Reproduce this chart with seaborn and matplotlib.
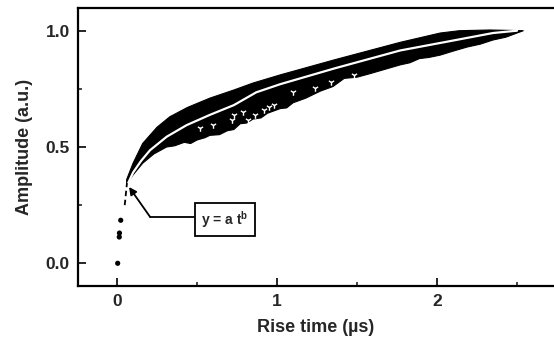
import matplotlib
matplotlib.use('Agg')
import matplotlib.pyplot as plt
import seaborn as sb
import numpy as np
import pandas as pd

# rise time (us) / normalised amplitude
# upper edge of the black band of traces
t_upper = [0.06, 0.10, 0.16, 0.25, 0.33, 0.44, 0.58, 0.73, 0.85, 1.02,
           1.36, 1.77, 2.02, 2.14, 2.33, 2.54]
y_upper = [0.36, 0.43, 0.515, 0.585, 0.63, 0.67, 0.71, 0.745, 0.775, 0.81,
           0.875, 0.95, 0.99, 1.0, 1.003, 1.0]
# ragged lower edge of the band
t_lower = [0.06, 0.10, 0.16, 0.23, 0.31, 0.36, 0.42, 0.46, 0.50, 0.55, 0.58,
           0.64, 0.69, 0.73, 0.77, 0.81, 0.85, 0.90, 0.94, 1.02, 1.06, 1.10,
           1.18, 1.27, 1.35, 1.42, 1.50, 1.58, 1.68, 1.77, 1.83, 1.89, 1.95,
           2.02, 2.10, 2.19, 2.27, 2.35, 2.43, 2.50, 2.54]
y_lower = [0.34, 0.38, 0.43, 0.47, 0.50, 0.505, 0.52, 0.515, 0.53, 0.54, 0.55,
           0.553, 0.57, 0.575, 0.60, 0.603, 0.62, 0.625, 0.645, 0.665, 0.668,
           0.69, 0.71, 0.74, 0.76, 0.795, 0.80, 0.815, 0.835, 0.853, 0.862,
           0.88, 0.885, 0.895, 0.912, 0.93, 0.942, 0.96, 0.972, 0.99, 1.0]
# white specks inside the lower part of the band
t_holes = [0.52, 0.60, 0.72, 0.73, 0.79, 0.82, 0.86, 0.92, 0.95, 0.98,
           1.10, 1.24, 1.34, 1.48]
y_holes = [0.58, 0.595, 0.616, 0.638, 0.652, 0.616, 0.638, 0.659, 0.673, 0.68,
           0.738, 0.752, 0.78, 0.81]
# fitted power law y = a t^b (white line through the band)
t_fit = [0.06, 0.10, 0.15, 0.206, 0.31, 0.435, 0.58, 0.73, 0.87, 1.02,
         1.36, 1.77, 2.08, 2.35, 2.50]
y_fit = [0.33, 0.39, 0.44, 0.486, 0.544, 0.594, 0.638, 0.68, 0.735, 0.77,
         0.838, 0.915, 0.955, 0.99, 1.0]
# dashed start of the fit below the band
t_lead = [0.048, 0.062]
y_lead = [0.25, 0.345]
# first few single points
t_dots = [0.004, 0.014, 0.015, 0.023]
y_dots = [0.0, 0.113, 0.13, 0.185]

x_ticks = [0, 1, 2]
x_labels = ['0', '1', '2']
y_ticks = [0.0, 0.5, 1.0]
y_labels = ['0.0', '0.5', '1.0']

sb.set_style('ticks')
plt.rcParams['font.family'] = ['Liberation Sans', 'DejaVu Sans']
plt.rcParams['font.weight'] = 'bold'
plt.rcParams['mathtext.fontset'] = 'custom'
plt.rcParams['mathtext.bf'] = 'Liberation Sans:bold'
plt.rcParams['mathtext.rm'] = 'Liberation Sans:bold'
plt.rcParams['mathtext.it'] = 'Liberation Sans:bold'
plt.rcParams['mathtext.default'] = 'bf'

fig = plt.figure(figsize=(5.54, 3.41), dpi=100)
ax = fig.add_axes([0.1408, 0.1622, 0.8592, 0.8135])

# band of traces as one polygon
ax.fill(t_upper + t_lower[::-1], y_upper + y_lower[::-1], color='k', lw=0.8,
        edgecolor='k', zorder=2)
sb.scatterplot(x=t_holes, y=y_holes, color='white', s=22, marker='1',
               linewidth=1.0, ax=ax, zorder=3)

fit = pd.DataFrame({'t': t_fit, 'y': y_fit})
sb.lineplot(data=fit, x='t', y='y', color='white', lw=1.6, ax=ax, zorder=4,
            sort=False)
sb.lineplot(x=t_lead, y=y_lead, color='k', lw=1.3, ax=ax, zorder=4,
            linestyle=(0, (3, 2)))
sb.scatterplot(x=t_dots, y=y_dots, color='k', s=14, edgecolor='none', ax=ax,
               zorder=4)

# label box with elbow arrow
tip = (0.075, 0.328)
elbow = (0.206, 0.20)
box_left = 0.48
ax.plot([elbow[0], box_left], [elbow[1], elbow[1]], color='k', lw=1.3, zorder=5)
ax.annotate('', xy=tip, xytext=elbow,
            arrowprops=dict(arrowstyle='-|>', color='k', lw=1.3,
                            mutation_scale=11, shrinkA=0, shrinkB=0), zorder=5)
ax.text(0.675, 0.188, r'y = a t$^b$', fontsize=10, fontweight='bold',
        ha='center', va='center', zorder=6,
        bbox=dict(boxstyle='square,pad=0.45', fc='white', ec='k', lw=1.3))

ax.set_xlim(-0.244, 2.731)
ax.set_ylim(-0.0963, 1.0963)
ax.set_xticks(x_ticks)
ax.set_xticklabels(x_labels)
ax.set_yticks(y_ticks)
ax.set_yticklabels(y_labels)
ax.set_xticks([0.5, 1.5, 2.5], minor=True)
ax.set_yticks([0.25, 0.75], minor=True)
ax.tick_params(which='major', direction='in', length=6, width=1.4,
               labelsize=12.5, pad=6)
ax.tick_params(which='minor', direction='in', length=3, width=1.2)
for lab in ax.get_xticklabels() + ax.get_yticklabels():
    lab.set_fontweight('bold')

for side in ['left', 'bottom', 'top']:
    ax.spines[side].set_linewidth(1.6)
    ax.spines[side].set_color('k')
ax.spines['right'].set_visible(False)

ax.set_xlabel('Rise time (\u00b5s)', fontsize=13, fontweight='bold', labelpad=7)
ax.set_ylabel('Amplitude (a.u.)', fontsize=13, fontweight='bold', labelpad=9)

fig.savefig('out.png', dpi=100)
